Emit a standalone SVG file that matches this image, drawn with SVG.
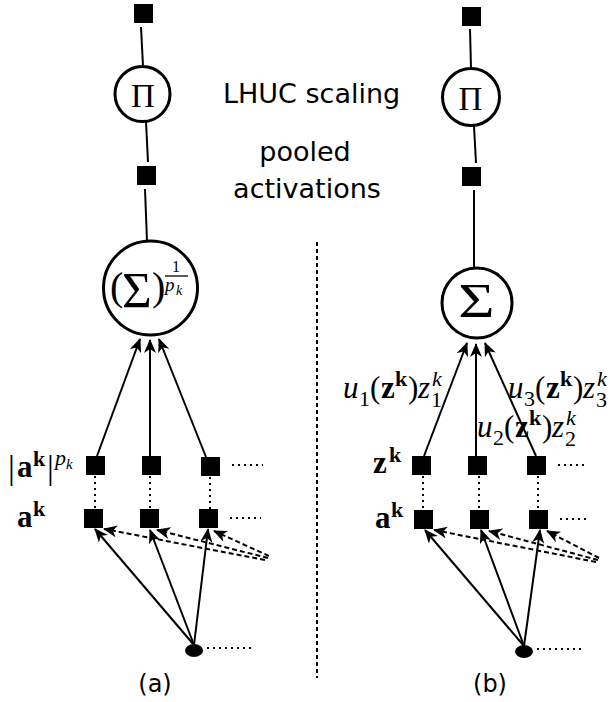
<svg xmlns="http://www.w3.org/2000/svg" width="610" height="702" viewBox="0 0 610 702">
<style>
.sq{fill:#000}
.ring{fill:#fff;stroke:#000;stroke-width:3}
.ln{stroke:#000;stroke-width:2;fill:none}
.arr{stroke:#000;stroke-width:2;fill:none;marker-end:url(#ah)}
.dsh{stroke:#000;stroke-width:2;stroke-dasharray:5 3;fill:none;marker-end:url(#ah)}
.dot{stroke:#000;stroke-width:2;stroke-dasharray:2 4;fill:none}
.sep{stroke:#000;stroke-width:2;stroke-dasharray:4 3;fill:none}
.sans{font-family:"DejaVu Sans",sans-serif;fill:#000}
.m{font-family:"Liberation Serif","DejaVu Serif",serif;fill:#000;font-size:31px}
.b{font-weight:bold}
.i{font-style:italic}
.s{font-size:22px}
.ss{font-size:15px}
.op{font-size:33px}
.sig{font-size:48px}
</style>
<defs>
<marker id="ah" markerUnits="userSpaceOnUse" markerWidth="14" markerHeight="12" viewBox="0 0 14 12" refX="13" refY="6" orient="auto">
<path d="M0,0 L14,6 L0,12 L4,6 z" fill="#000"/>
</marker>
</defs>

<g id="connectors">
<line class="ln" x1="141" y1="27" x2="143" y2="66"/>
<line class="ln" x1="146" y1="122" x2="148" y2="162"/>
<line class="ln" x1="145" y1="189" x2="147" y2="241"/>
<line class="ln" x1="470" y1="29" x2="471" y2="68"/>
<line class="ln" x1="474" y1="126" x2="476" y2="163"/>
<line class="ln" x1="474" y1="190" x2="474" y2="268"/>
<line class="arr" x1="97" y1="456" x2="140" y2="339"/>
<line class="arr" x1="150" y1="456" x2="150" y2="340"/>
<line class="arr" x1="206" y1="457" x2="159" y2="339"/>
<line class="arr" x1="424" y1="456" x2="467" y2="343"/>
<line class="arr" x1="476" y1="456" x2="476" y2="344"/>
<line class="arr" x1="536" y1="456" x2="485" y2="343"/>
<line class="dot" x1="95" y1="476" x2="95" y2="509"/>
<line class="dot" x1="150" y1="476" x2="150" y2="509"/>
<line class="dot" x1="210" y1="477" x2="210" y2="509"/>
<line class="dot" x1="423" y1="476" x2="423" y2="510"/>
<line class="dot" x1="479" y1="476" x2="479" y2="510"/>
<line class="dot" x1="538" y1="476" x2="538" y2="510"/>
<line class="dot" x1="232" y1="465" x2="263" y2="465"/>
<line class="dot" x1="230" y1="518" x2="261" y2="518"/>
<line class="dot" x1="207" y1="648" x2="251" y2="648"/>
<line class="dot" x1="558" y1="465" x2="588" y2="465"/>
<line class="dot" x1="560" y1="519" x2="590" y2="519"/>
<line class="dot" x1="537" y1="649" x2="581" y2="649"/>
<line class="arr" x1="194" y1="645" x2="95" y2="529"/>
<line class="arr" x1="194" y1="645" x2="150" y2="530"/>
<line class="arr" x1="194" y1="645" x2="208" y2="529"/>
<line class="dsh" x1="265" y1="560" x2="104" y2="529"/>
<line class="dsh" x1="268" y1="558" x2="157" y2="530"/>
<line class="dsh" x1="269" y1="556" x2="214" y2="531"/>
<line class="arr" x1="524" y1="646" x2="425" y2="530"/>
<line class="arr" x1="524" y1="646" x2="481" y2="530"/>
<line class="arr" x1="524" y1="646" x2="540" y2="530"/>
<line class="dsh" x1="596" y1="562" x2="434" y2="530"/>
<line class="dsh" x1="598" y1="560" x2="489" y2="531"/>
<line class="dsh" x1="599" y1="558" x2="547" y2="531"/>
<line class="sep" x1="317" y1="242" x2="317" y2="678"/>
</g>

<g id="left-out"><rect class="sq" x="134" y="4" width="19" height="19"/></g>
<g id="left-prod"><circle class="ring" cx="142.5" cy="94" r="27.5"/><text class="m op" x="143" y="107" text-anchor="middle">Π</text></g>
<g id="left-pooled"><rect class="sq" x="137" y="166" width="19" height="19"/></g>
<g id="left-pool">
<circle class="ring" cx="150.5" cy="288" r="47"/>
<text class="m"><tspan x="110" y="300" style="font-size:40px">(</tspan><tspan x="122" y="307" style="font-size:51px">Σ</tspan><tspan x="152" y="300" style="font-size:40px">)</tspan><tspan x="172" y="272" style="font-size:16px">1</tspan><tspan class="i" x="165" y="291" style="font-size:19px">p</tspan><tspan class="i" x="176" y="295" style="font-size:14px">k</tspan></text>
<line x1="165" y1="276" x2="188" y2="276" stroke="#000" stroke-width="1.3"/>
</g>
<g id="left-pow">
<rect class="sq" x="86" y="456" width="19" height="19"/>
<rect class="sq" x="142" y="456" width="19" height="19"/>
<rect class="sq" x="201" y="457" width="19" height="19"/>
<text class="m"><tspan x="8" y="479" style="font-size:34px">|</tspan><tspan class="b" x="17" y="477">a</tspan><tspan class="b s" x="33" y="466">k</tspan><tspan x="47" y="479" style="font-size:34px">|</tspan><tspan class="i s" x="55" y="465">p</tspan><tspan class="i ss" x="66" y="469">k</tspan></text>
</g>
<g id="left-act">
<rect class="sq" x="84" y="509" width="19" height="19"/>
<rect class="sq" x="140" y="509" width="19" height="19"/>
<rect class="sq" x="199" y="509" width="19" height="19"/>
<text class="m"><tspan class="b" x="17" y="527">a</tspan><tspan class="b s" x="33" y="516">k</tspan></text>
</g>
<g id="left-input"><ellipse cx="194" cy="650.5" rx="9" ry="6.5" fill="#000"/></g>

<g id="right-out"><rect class="sq" x="462" y="7" width="19" height="19"/></g>
<g id="right-prod"><circle class="ring" cx="471" cy="97" r="28.5"/><text class="m op" x="470.5" y="110" text-anchor="middle">Π</text></g>
<g id="right-pooled"><rect class="sq" x="462" y="167" width="19" height="19"/></g>
<g id="right-sum"><circle class="ring" cx="477" cy="303" r="35"/><text class="m sig" transform="translate(476.5,317) scale(1.3,1)" text-anchor="middle">Σ</text></g>
<g id="right-z">
<rect class="sq" x="412" y="456" width="19" height="19"/>
<rect class="sq" x="468" y="456" width="19" height="19"/>
<rect class="sq" x="527" y="456" width="19" height="19"/>
<text class="m"><tspan class="b" x="373" y="473">z</tspan><tspan class="b s" x="389" y="462">k</tspan></text>
</g>
<g id="right-act">
<rect class="sq" x="414" y="510" width="19" height="19"/>
<rect class="sq" x="470" y="510" width="19" height="19"/>
<rect class="sq" x="529" y="510" width="19" height="19"/>
<text class="m"><tspan class="b" x="375" y="528">a</tspan><tspan class="b s" x="391" y="517">k</tspan></text>
</g>
<g id="right-input"><ellipse cx="524" cy="651.5" rx="9" ry="6.5" fill="#000"/></g>

<g id="labels">
<text class="m"><tspan class="i" x="343" y="398">u</tspan><tspan class="s" x="359" y="406">1</tspan><tspan x="370" y="398">(</tspan><tspan class="b" x="381" y="398">z</tspan><tspan class="b s" x="395" y="386">k</tspan><tspan x="408" y="398">)</tspan><tspan class="i" x="418" y="398">z</tspan><tspan class="i s" x="432" y="386">k</tspan><tspan class="s" x="431" y="407">1</tspan></text>
<text class="m"><tspan class="i" x="477" y="437">u</tspan><tspan class="s" x="493" y="445">2</tspan><tspan x="504" y="437">(</tspan><tspan class="b" x="515" y="437">z</tspan><tspan class="b s" x="529" y="425">k</tspan><tspan x="542" y="437">)</tspan><tspan class="i" x="552" y="437">z</tspan><tspan class="i s" x="566" y="425">k</tspan><tspan class="s" x="565" y="446">2</tspan></text>
<text class="m"><tspan class="i" x="508" y="398">u</tspan><tspan class="s" x="524" y="406">3</tspan><tspan x="535" y="398">(</tspan><tspan class="b" x="546" y="398">z</tspan><tspan class="b s" x="560" y="386">k</tspan><tspan x="573" y="398">)</tspan><tspan class="i" x="583" y="398">z</tspan><tspan class="i s" x="597" y="386">k</tspan><tspan class="s" x="596" y="407">3</tspan></text>
<text class="sans" x="223" y="103" font-size="27">LHUC scaling</text>
<text class="sans" x="305" y="161" font-size="27" text-anchor="middle">pooled</text>
<text class="sans" x="307" y="198" font-size="27" text-anchor="middle">activations</text>
<text class="sans" x="155" y="692" font-size="24" text-anchor="middle">(a)</text>
<text class="sans" x="490" y="692" font-size="24" text-anchor="middle">(b)</text>
</g>
</svg>
